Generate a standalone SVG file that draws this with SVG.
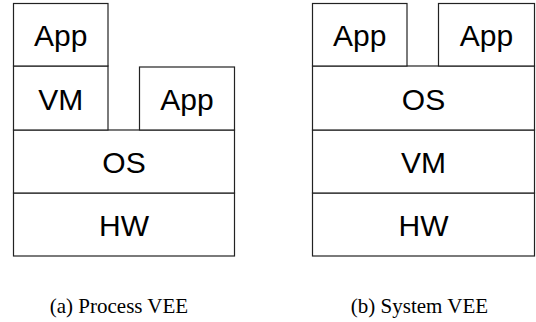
<svg xmlns="http://www.w3.org/2000/svg" width="536" height="322" viewBox="0 0 536 322">
<style>
.box{fill:#fff;stroke:#222;stroke-width:1.2}
.lbl{font-family:"Liberation Sans",Arial,sans-serif;font-size:30px;fill:#000;text-anchor:middle}
.cap{font-family:"Liberation Serif","Times New Roman",serif;font-size:21px;fill:#000;text-anchor:middle}
</style>
<rect width="536" height="322" fill="#fff"/>
<g id="process-vee">
<g id="a-hw"><rect class="box" x="13.5" y="193" width="221" height="63"/><text class="lbl" x="124" y="235.5">HW</text></g>
<g id="a-os"><rect class="box" x="13.5" y="130" width="221" height="63"/><text class="lbl" x="124" y="172.5">OS</text></g>
<g id="a-vm"><rect class="box" x="13.5" y="66" width="94.5" height="64"/><text class="lbl" x="60.8" y="109.5">VM</text></g>
<g id="a-app1"><rect class="box" x="13.5" y="3.5" width="94.5" height="62.5"/><text class="lbl" x="60.8" y="46">App</text></g>
<g id="a-app2"><rect class="box" x="139.5" y="67" width="95" height="63"/><text class="lbl" x="187" y="109.5">App</text></g>
</g>
<g id="system-vee">
<g id="b-hw"><rect class="box" x="312.5" y="193" width="222" height="63"/><text class="lbl" x="423.5" y="235.5">HW</text></g>
<g id="b-vm"><rect class="box" x="312.5" y="130" width="222" height="63"/><text class="lbl" x="423.5" y="172.5">VM</text></g>
<g id="b-os"><rect class="box" x="312.5" y="66" width="222" height="64"/><text class="lbl" x="423.5" y="109.5">OS</text></g>
<g id="b-app1"><rect class="box" x="312.5" y="3.5" width="94.5" height="62.5"/><text class="lbl" x="359.7" y="46">App</text></g>
<g id="b-app2"><rect class="box" x="438.5" y="3.5" width="96" height="62.5"/><text class="lbl" x="486.5" y="46">App</text></g>
</g>
<g id="connectors"/>
<text class="cap" x="119" y="313">(a) Process VEE</text>
<text class="cap" x="419.5" y="313">(b) System VEE</text>
</svg>
